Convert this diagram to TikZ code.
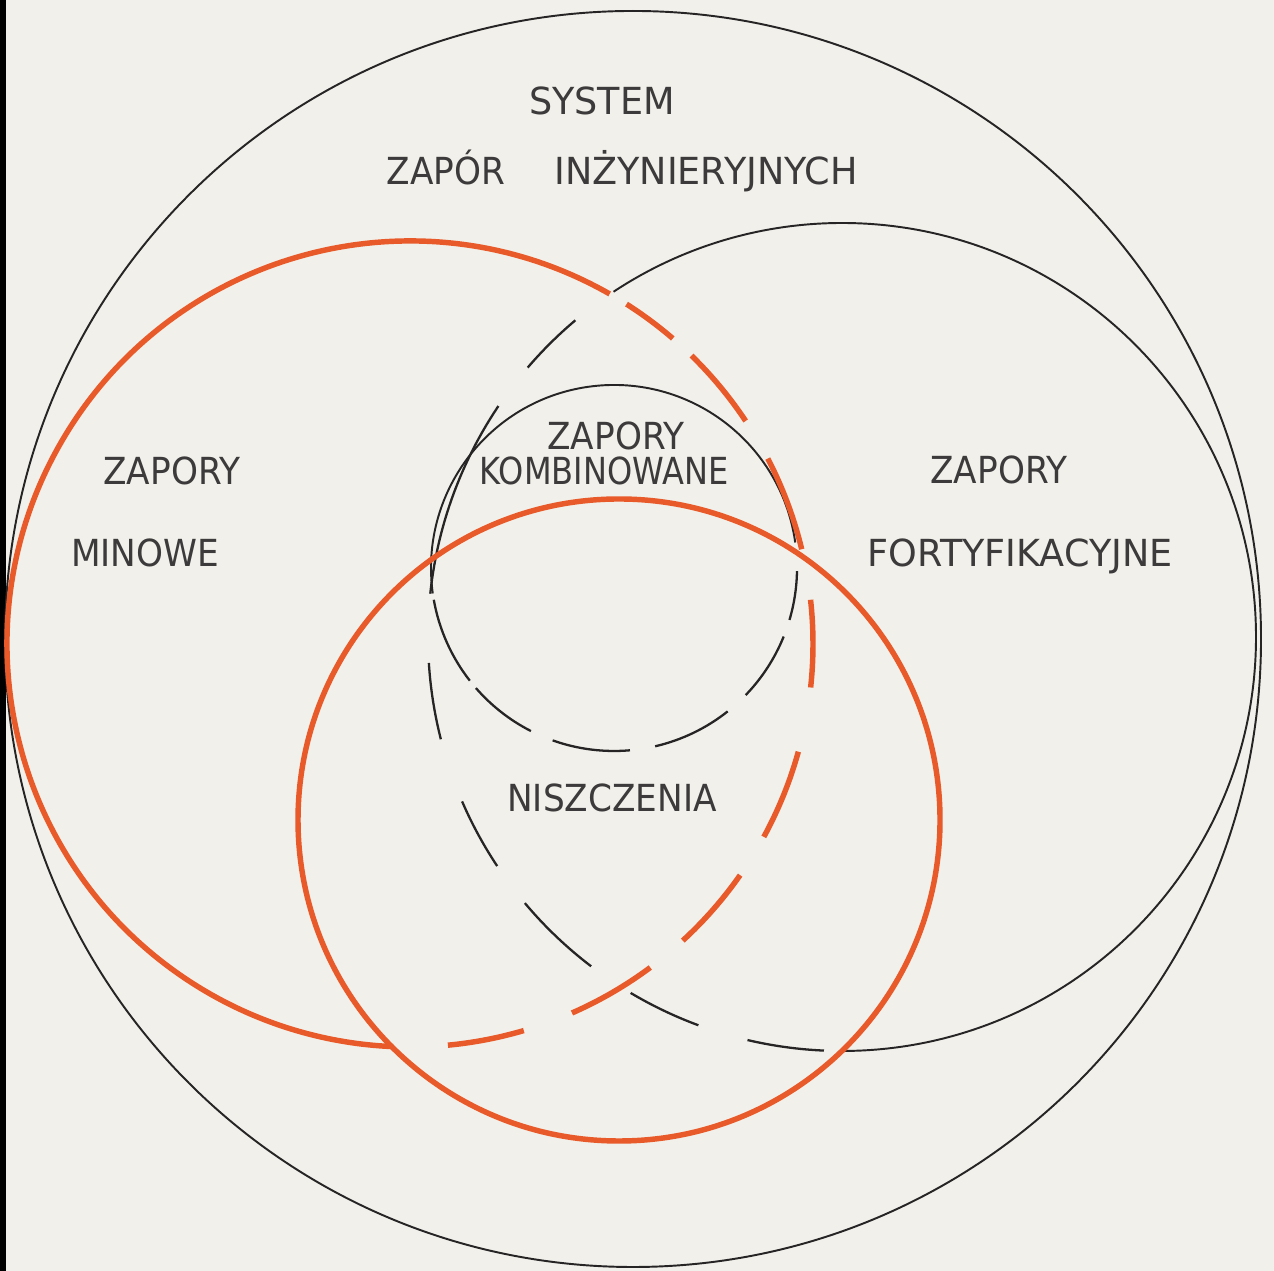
\documentclass[tikz,border=0pt]{standalone}
\usepackage{fontspec}
\newfontfamily\letterfont{DejaVu Sans}[FakeStretch=0.92]
\newfontfamily\widefont{DejaVu Sans}[FakeStretch=0.98]
\newfontfamily\narrowfont{DejaVu Sans}[FakeStretch=0.86]
\definecolor{paper}{RGB}{242,240,234}
\definecolor{pencilred}{RGB}{232,90,42}
\definecolor{ink}{RGB}{38,36,36}

\begin{document}
\begin{tikzpicture}[x=0.01cm, y=0.01cm,
  thinring/.style={draw=ink, line width=0.55pt},
  dashring/.style={draw=ink, line width=0.65pt},
  redring/.style={draw=pencilred, line width=1.55pt},
  lbl/.style={font=\letterfont\fontsize{10.6pt}{12pt}\selectfont,
              text=ink!90, anchor=base, inner sep=0pt},
  lblwide/.style={lbl, font=\widefont\fontsize{10.6pt}{12pt}\selectfont},
  lblnarrow/.style={lbl, font=\narrowfont\fontsize{10.6pt}{12pt}\selectfont}]

%% ---- Sfondo (carta) ----
\fill[paper] (0,0) rectangle (1274,1271);
\fill[black] (0,0) rectangle (6,1271);
\useasboundingbox (0,0) rectangle (1274,1271);

%% ---- Centri dei cerchi ----
\coordinate (cSys)   at (633,632);
\coordinate (cMin)   at (410,627);
\coordinate (cFort)  at (842,634);
\coordinate (cKombi) at (614,703);
\coordinate (cNisz)  at (619,451);

%% ---- Cerchio esterno: system ----
\draw[thinring] (cSys) circle[radius=628];

%% ---- Zapory fortyfikacyjne (destra piena, sinistra tratteggiata) ----
\draw[thinring] (cFort) ++(270.4:414) arc[start angle=270.4, end angle=483.5, radius=414];
\foreach \a/\b in {130.1/139.4, 146.1/174, 183.6/194.3, 203.4/213.6,
                   220/232.7, 239.3/249.7, 256.8/267.5}
  \draw[dashring] (cFort) ++(\a:414) arc[start angle=\a, end angle=\b, radius=414];

%% ---- Zapory kombinowane (sopra pieno, sotto tratteggiato) ----
\draw[thinring] (cKombi) ++(8:183) arc[start angle=8, end angle=188, radius=183];
\foreach \a/\b in {-1/-16.5, -22/-44, -51.6/-77, -85/-109.6, -117/-139, -142/-170}
  \draw[dashring] (cKombi) ++(\a:183) arc[start angle=\a, end angle=\b, radius=183];

%% ---- Zapory minowe (rosso, destra tratteggiata) ----
\draw[redring] (cMin) ++(60.3:403) arc[start angle=60.3, end angle=267.6, radius=403];
\foreach \a/\b in {275.4/286.4, 293.7/306.6, 312.6/325, 331.4/344.5,
                   353.8/366.3, 373.6/387.4, 393.6/405.7, 409.3/417.5}
  \draw[redring] (cMin) ++(\a:403) arc[start angle=\a, end angle=\b, radius=403];

%% ---- Zapory niszczenia (rosso) ----
\draw[redring] (cNisz) circle[radius=321];

%% ---- Etichette ----
\node[lblwide]   (tSystem) at (602,1156) {SYSTEM};
\node[lbl]       (tZapor)  at (446,1086) {ZAPÓR};
\node[lblwide]   (tInz)    at (706,1086) {INŻYNIERYJNYCH};
\node[lbl]       (tZapMin) at (172,786)  {ZAPORY};
\node[lbl]       (tMin)    at (145,704)  {MINOWE};
\node[lbl]       (tZapFor) at (999,787)  {ZAPORY};
\node[lblwide]   (tFort)   at (1020,704) {FORTYFIKACYJNE};
\node[lbl]       (tZapKom) at (616,821)  {ZAPORY};
\node[lblnarrow] (tKombi)  at (604,786)  {KOMBINOWANE};
\node[lbl]       (tNisz)   at (612,459)  {NISZCZENIA};

\end{tikzpicture}
\end{document}
